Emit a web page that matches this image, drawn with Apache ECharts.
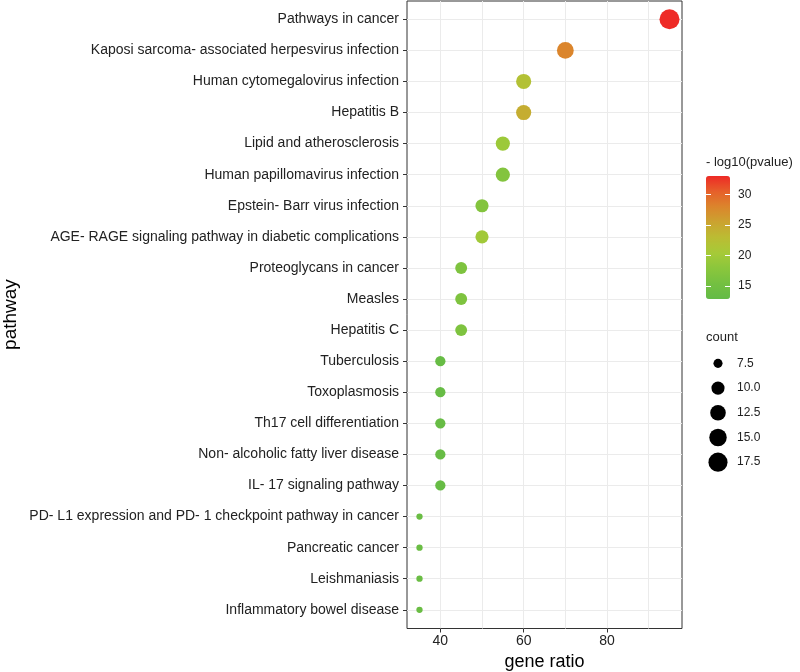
<!DOCTYPE html>
<html>
<head>
<meta charset="utf-8">
<script src="https://cdn.jsdelivr.net/npm/echarts@6/dist/echarts.min.js"></script>
<style>html,body{margin:0;padding:0;background:#fff}#c{width:800px;height:672px}</style>
</head>
<body>
<div id="c"></div>
<script>
const categories = [
  "Pathways in cancer",
  "Kaposi sarcoma- associated herpesvirus infection",
  "Human cytomegalovirus infection",
  "Hepatitis B",
  "Lipid and atherosclerosis",
  "Human papillomavirus infection",
  "Epstein- Barr virus infection",
  "AGE- RAGE signaling pathway in diabetic complications",
  "Proteoglycans in cancer",
  "Measles",
  "Hepatitis C",
  "Tuberculosis",
  "Toxoplasmosis",
  "Th17 cell differentiation",
  "Non- alcoholic fatty liver disease",
  "IL- 17 signaling pathway",
  "PD- L1 expression and PD- 1 checkpoint pathway in cancer",
  "Pancreatic cancer",
  "Leishmaniasis",
  "Inflammatory bowel disease"
];
const geneRatio = [95, 70, 60, 60, 55, 55, 50, 50, 45, 45, 45, 40, 40, 40, 40, 40, 35, 35, 35, 35];
const counts    = [19, 14, 12, 12, 11, 11, 10, 10, 9, 9, 9, 8, 8, 8, 8, 8, 7, 7, 7, 7];
const negLog10P = [33, 28, 22, 24.5, 19.5, 17, 17, 20, 16.5, 16.5, 16.5, 13.5, 13.5, 13.5, 13.5, 13.5, 14, 14, 14, 14];
const xTickLabels = [40, 60, 80];
const xGridLines = [30, 40, 50, 60, 70, 80, 90, 100];
const colorTickLabels = [15, 20, 25, 30];
const sizeLegendValues = [7.5, 10, 12.5, 15, 17.5];

const FONT = "'Liberation Sans', Arial, Helvetica, sans-serif";
const TXT = '#222222';
const cMin = Math.min(...counts), cMax = Math.max(...counts);
function sizeOf(c) {
  const t = Math.max(0, (c - cMin) / (cMax - cMin));
  return 6.3 + 13.7 * Math.sqrt(t);
}

const mainData = categories.map((c, i) => [geneRatio[i], c, counts[i], negLog10P[i]]);
const sizeLegendCats = sizeLegendValues.map(v => v.toFixed(1));
const sizeLegendData = sizeLegendValues.map((v, i) => [0.5, sizeLegendCats[i], v]);

const chart = echarts.init(document.getElementById('c'), null, {renderer: 'canvas'});
chart.setOption({
  animation: false,
  backgroundColor: '#ffffff',
  textStyle: {fontFamily: FONT},
  title: [
    {text: '- log10(pvalue)', left: 706, top: 156, padding: 0,
     textStyle: {fontFamily: FONT, fontSize: 13, fontWeight: 'normal', color: TXT}},
    {text: 'count', left: 706, top: 331, padding: 0,
     textStyle: {fontFamily: FONT, fontSize: 13, fontWeight: 'normal', color: TXT}}
  ],
  grid: [
    {left: 398.67, width: 291.67, top: 1, height: 627.5, show: false, containLabel: false, outerBoundsMode: 'none'},
    {left: 407, width: 275, top: 1, height: 627.5, show: true, containLabel: false, outerBoundsMode: 'none',
     borderColor: '#333333', borderWidth: 1, backgroundColor: 'transparent'},
    {left: 407, width: 275, top: 19.3, height: 590.5, show: false, containLabel: false, outerBoundsMode: 'none'},
    {left: 706, width: 24, top: 176, height: 123, show: false, containLabel: false, outerBoundsMode: 'none'},
    {left: 706, width: 24, top: 351, height: 123.5, show: false, containLabel: false, outerBoundsMode: 'none'}
  ],
  xAxis: [
    {gridIndex: 0, type: 'value', min: 30, max: 100,
     axisLine: {show: false},
     axisTick: {show: false, customValues: xGridLines},
     axisLabel: {show: false},
     splitLine: {show: true, showMinLine: false, showMaxLine: false, lineStyle: {color: '#EBEBEB', width: 1}}},
    {gridIndex: 1, type: 'value', min: 32, max: 98,
     name: 'gene ratio', nameLocation: 'middle', nameGap: 22,
     nameTextStyle: {fontFamily: FONT, fontSize: 18, color: '#000'},
     axisLine: {show: false},
     axisTick: {show: true, customValues: xTickLabels, length: 4, lineStyle: {color: '#333333'}},
     axisLabel: {customValues: xTickLabels, fontSize: 14, color: TXT, margin: 6, fontFamily: FONT},
     splitLine: {show: false}},
    {gridIndex: 2, type: 'value', show: false, min: 32, max: 98},
    {gridIndex: 3, type: 'value', show: false, min: 0, max: 1},
    {gridIndex: 4, type: 'value', show: false, min: 0, max: 1}
  ],
  yAxis: [
    {gridIndex: 0, type: 'value', show: false, min: 0, max: 1},
    {gridIndex: 1, type: 'value', show: false, min: 0, max: 1},
    {gridIndex: 2, type: 'category', data: categories, inverse: true, boundaryGap: false,
     name: 'pathway', nameLocation: 'middle', nameRotate: 90, nameGap: 387,
     nameTextStyle: {fontFamily: FONT, fontSize: 19, color: '#000'},
     axisLine: {show: false},
     axisTick: {show: true, length: 4, lineStyle: {color: '#333333'}},
     axisLabel: {fontSize: 14, color: TXT, margin: 8, fontFamily: FONT, interval: 0},
     splitLine: {show: true, interval: 0, lineStyle: {color: '#EBEBEB', width: 1}}},
    {gridIndex: 3, type: 'value', min: 12.9, max: 33, position: 'left', z: 10,
     axisLine: {show: false},
     axisTick: {show: true, inside: true, length: 5, customValues: colorTickLabels, lineStyle: {color: '#ffffff', width: 1}},
     axisLabel: {show: false}, splitLine: {show: false}},
    {gridIndex: 3, type: 'value', min: 12.9, max: 33, position: 'right', z: 10,
     axisLine: {show: false},
     axisTick: {show: true, inside: true, length: 5, customValues: colorTickLabels, lineStyle: {color: '#ffffff', width: 1}},
     axisLabel: {show: true, customValues: colorTickLabels, fontSize: 12, color: TXT, margin: 8, fontFamily: FONT},
     splitLine: {show: false}},
    {gridIndex: 4, type: 'category', data: sizeLegendCats, inverse: true, position: 'right',
     axisLine: {show: false}, axisTick: {show: false},
     axisLabel: {fontSize: 12, color: TXT, margin: 7, fontFamily: FONT},
     splitLine: {show: false}}
  ],
  visualMap: [{
    type: 'continuous', seriesIndex: 0, dimension: 3,
    min: 12.9, max: 33, calculable: false, realtime: false, hoverLink: false,
    left: 706, top: 176, itemWidth: 24, itemHeight: 123, padding: 0,
    text: null, showLabel: false,
    inRange: {color: ['#63BB46', '#74C041', '#8BC63C', '#A6CA38', '#BBBC33', '#CBA330', '#DB852C', '#E65F2A', '#EE2A26']}
  }],
  series: [
    {type: 'scatter', xAxisIndex: 2, yAxisIndex: 2, data: mainData, z: 5,
     symbolSize: v => sizeOf(v[2]), itemStyle: {opacity: 1}, silent: true},
    {type: 'scatter', xAxisIndex: 4, yAxisIndex: 5, data: sizeLegendData, z: 5,
     symbolSize: v => sizeOf(v[2]), itemStyle: {color: '#000000', opacity: 1}, silent: true}
  ]
});
</script>
</body>
</html>
